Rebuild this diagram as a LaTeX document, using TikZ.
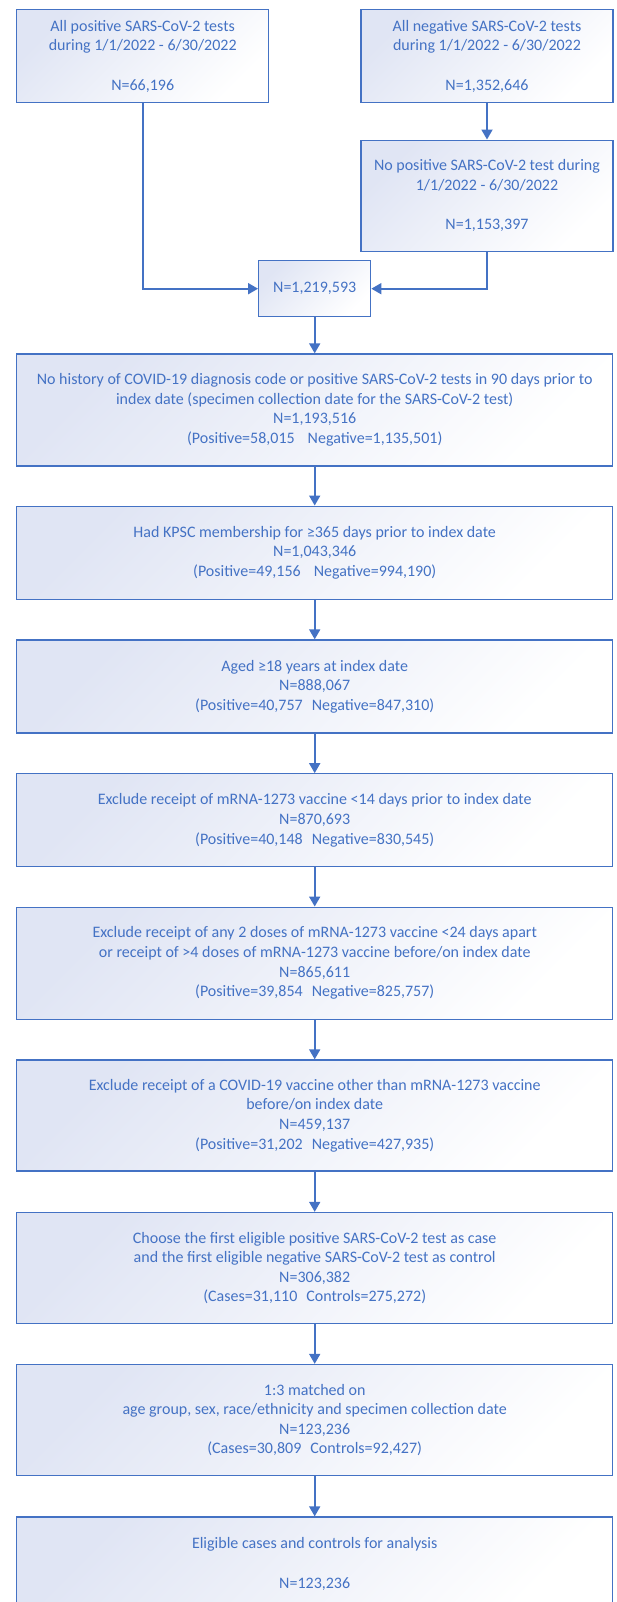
\documentclass[tikz,border=0pt]{standalone}
\usepackage{fontspec}
\setmainfont{Carlito}
\usetikzlibrary{arrows.meta}
\definecolor{kpblue}{RGB}{68,114,196}
\definecolor{kpfill}{RGB}{224,229,244}
\tikzset{>={Triangle[width=11pt,length=10pt]}}
\tikzset{
  box/.style={draw=kpblue, line width=1.3pt, top color=kpfill, bottom color=white,
    shading angle=45, text=kpblue, align=center, inner sep=0pt,
    font=\fontsize{16}{19.6}\selectfont},
  wide/.style={box, minimum width=596pt},
  half/.style={box, minimum width=252pt},
  flow/.style={->, kpblue, line width=1.8pt},
}

\begin{document}
\begin{tikzpicture}[x=1pt,y=-1pt]
  \useasboundingbox (0,0) rectangle (616,1602);
  % sources
  \node[half, minimum height=93pt]  (pos)   at (142.7,56.2)
    {All positive SARS-CoV-2 tests\\during 1/1/2022 - 6/30/2022\\[19.6pt]N=66,196};
  \node[half, minimum height=93pt]  (neg)   at (487,56.2)
    {All negative SARS-CoV-2 tests\\during 1/1/2022 - 6/30/2022\\[19.6pt]N=1,352,646};
  \node[half, minimum height=111pt] (nopos) at (487,195.7)
    {No positive SARS-CoV-2 test during\\1/1/2022 - 6/30/2022\\[19.6pt]N=1,153,397};
  \node[box, minimum width=112pt, minimum height=56pt] (all) at (314.7,288.7) {N=1,219,593};
  % exclusion steps
  \node[wide, minimum height=112pt] (hist)  at (314.7,410)
    {No history of COVID-19 diagnosis code or positive SARS-CoV-2 tests in 90 days prior to\\
     index date (specimen collection date for the SARS-CoV-2 test)\\N=1,193,516\\
     (Positive=58,015\hspace{13pt}Negative=1,135,501)};
  \node[wide, minimum height=93pt]  (memb)  at (314.7,552.7)
    {Had KPSC membership for ≥365 days prior to index date\\N=1,043,346\\
     (Positive=49,156\hspace{13pt}Negative=994,190)};
  \node[wide, minimum height=93pt]  (age)   at (314.7,686.5)
    {Aged ≥18 years at index date\\N=888,067\\(Positive=40,757\hspace{9pt}Negative=847,310)};
  \node[wide, minimum height=93pt]  (early) at (314.7,820.3)
    {Exclude receipt of mRNA-1273 vaccine <14 days prior to index date\\N=870,693\\
     (Positive=40,148\hspace{9pt}Negative=830,545)};
  \node[wide, minimum height=112pt] (doses) at (314.7,963.2)
    {Exclude receipt of any 2 doses of mRNA-1273 vaccine <24 days apart\\
     or receipt of >4 doses of mRNA-1273 vaccine before/on index date\\N=865,611\\
     (Positive=39,854\hspace{9pt}Negative=825,757)};
  \node[wide, minimum height=111pt] (other) at (314.7,1115.5)
    {Exclude receipt of a COVID-19 vaccine other than mRNA-1273 vaccine\\before/on index date\\
     N=459,137\\(Positive=31,202\hspace{9pt}Negative=427,935)};
  % case/control selection
  \node[wide, minimum height=111pt] (first) at (314.7,1268)
    {Choose the first eligible positive SARS-CoV-2 test as case\\
     and the first eligible negative SARS-CoV-2 test as control\\N=306,382\\
     (Cases=31,110\hspace{9pt}Controls=275,272)};
  \node[wide, minimum height=111pt] (match) at (314.7,1420)
    {1:3 matched on\\age group, sex, race/ethnicity and specimen collection date\\N=123,236\\
     (Cases=30,809\hspace{9pt}Controls=92,427)};
  \node[wide, minimum height=94pt]  (final) at (314.7,1564)
    {Eligible cases and controls for analysis\\[19.6pt]N=123,236};
  % arrows
  \draw[flow] (pos) |- (all);
  \draw[flow] (neg) -- (nopos);
  \draw[flow] (nopos) |- (all);
  \draw[flow] (all) -- (hist);
  \draw[flow] (hist) -- (memb);
  \draw[flow] (memb) -- (age);
  \draw[flow] (age) -- (early);
  \draw[flow] (early) -- (doses);
  \draw[flow] (doses) -- (other);
  \draw[flow] (other) -- (first);
  \draw[flow] (first) -- (match);
  \draw[flow] (match) -- (final);
\end{tikzpicture}
\end{document}
